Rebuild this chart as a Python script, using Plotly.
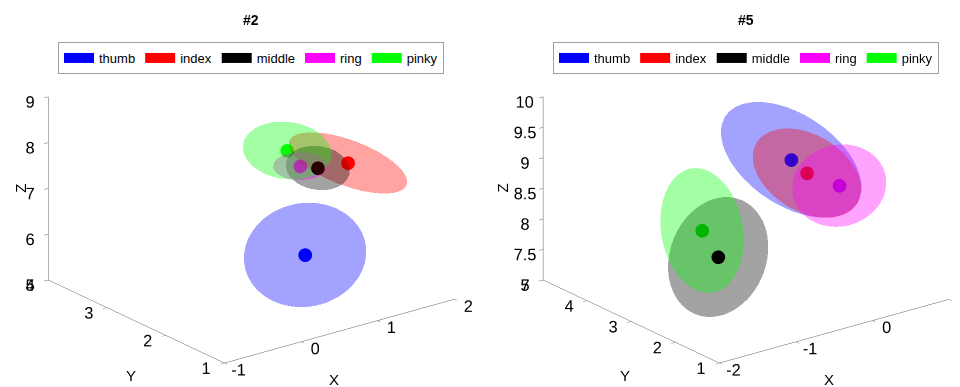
import numpy as np
import plotly.graph_objects as go

fingers = ["thumb", "index", "middle", "ring", "pinky"]
colors = ["#0000ff", "#ff0000", "#000000", "#ff00ff", "#00ff00"]

# Subject #2: ellipsoid centres (means) and semi-axes
s2_x = [0.59, 1.38, 1.14, 1.14, 1.20]
s2_y = [1.70, 2.00, 2.20, 2.50, 2.80]
s2_z = [6.20, 7.66, 7.54, 7.40, 7.53]
s2_rx = [0.67, 0.35, 0.30, 0.28, 0.42]
s2_ry = [0.57, 0.90, 0.38, 0.28, 0.52]
s2_rz = [1.04, 0.35, 0.40, 0.215, 0.51]

# Subject #5
s5_x = [0.09, 0.18, -1.21, 0.43, -0.96]
s5_y = [3.00, 2.80, 2.40, 2.50, 3.20]
s5_z = [8.92, 8.74, 7.985, 8.55, 8.06]
s5_rx = [0.30, 0.34, 0.62, 0.52, 0.31]
s5_ry = [1.51, 1.08, 0.37, 0.57, 0.78]
s5_rz = [0.79, 0.62, 0.95, 0.62, 0.98]

# axis limits, tick values and tick labels
s2_xlim, s2_ylim, s2_zlim = [-1, 2], [1, 4], [5, 9]
s5_xlim, s5_ylim, s5_zlim = [-2, 1], [1, 5], [7, 10]
s2_xticks, s2_xlabels = [-1, 0, 1, 2], ["-1", "0", "1", "2"]
s2_yticks, s2_ylabels = [1, 2, 3, 4], ["1", "2", "3", "4"]
s2_zticks, s2_zlabels = [5, 6, 7, 8, 9], ["5", "6", "7", "8", "9"]
s5_xticks, s5_xlabels = [-2, -1, 0, 1], ["-2", "-1", "0", ""]
s5_yticks, s5_ylabels = [1, 2, 3, 4, 5], ["1", "2", "3", "4", "5"]
s5_zticks = [7, 7.5, 8, 8.5, 9, 9.5, 10]
s5_zlabels = ["7", "7.5", "8", "8.5", "9", "9.5", "10"]

FONT = "Liberation Sans, Arial, sans-serif"
ALPHA = 0.2


def ellipsoid(cx, cy, cz, rx, ry, rz, n=48):
    u = np.linspace(0, 2 * np.pi, n)
    v = np.linspace(0, np.pi, n // 2)
    X = cx + rx * np.outer(np.cos(u), np.sin(v))
    Y = cy + ry * np.outer(np.sin(u), np.sin(v))
    Z = cz + rz * np.outer(np.ones_like(u), np.cos(v))
    return X, Y, Z


fig = go.Figure()

for scene, legend, xs, ys, zs, rxs, rys, rzs in [
    ("scene", "legend", s2_x, s2_y, s2_z, s2_rx, s2_ry, s2_rz),
    ("scene2", "legend2", s5_x, s5_y, s5_z, s5_rx, s5_ry, s5_rz),
]:
    for i, f in enumerate(fingers):
        X, Y, Z = ellipsoid(xs[i], ys[i], zs[i], rxs[i], rys[i], rzs[i])
        fig.add_trace(go.Surface(
            x=X, y=Y, z=Z, scene=scene,
            surfacecolor=np.zeros_like(X),
            colorscale=[[0, colors[i]], [1, colors[i]]],
            showscale=False, opacity=ALPHA, showlegend=False,
            lighting=dict(ambient=1, diffuse=0, specular=0, roughness=1, fresnel=0),
            hoverinfo="skip",
        ))
    fig.add_trace(go.Scatter3d(
        x=xs, y=ys, z=zs, scene=scene, mode="markers",
        marker=dict(size=8, color=colors, line=dict(width=0)),
        showlegend=False, hoverinfo="skip",
    ))
    for i, f in enumerate(fingers):
        fig.add_trace(go.Scatter(
            x=[None], y=[None], mode="lines", name=f, legend=legend,
            line=dict(color=colors[i], width=13),
        ))

# view: azimuth / elevation (orthographic)
AZ, EL = 232.5, 21.2
DOM_Y = [0.0, 0.99]
K = 1.138
PX_PER_UNIT = 200.0 * K
ASPECT = dict(x=1.72 / K, y=1.72 / K, z=1.168 / K)
a, e = np.radians(AZ), np.radians(EL)
view_dir = np.array([np.cos(e) * np.cos(a), np.cos(e) * np.sin(a), np.sin(e)])
screen_right = np.array([-np.sin(a), np.cos(a), 0.0])
screen_up = np.array([-np.sin(e) * np.cos(a), -np.sin(e) * np.sin(a), np.cos(e)])


def camera(shift_right_px, shift_down_px):
    c = (-shift_right_px * screen_right + shift_down_px * screen_up) / PX_PER_UNIT
    ey = c + 1.8 * view_dir
    return dict(
        eye=dict(x=ey[0], y=ey[1], z=ey[2]),
        center=dict(x=c[0], y=c[1], z=c[2]),
        up=dict(x=0, y=0, z=1),
        projection=dict(type="orthographic"),
    )


def axis(rng, ticks, labels):
    return dict(
        range=rng, tickmode="array", tickvals=ticks, ticktext=labels,
        title=dict(text=""),
        showbackground=False, showgrid=False, zeroline=False,
        showline=True, linecolor="#606060", linewidth=1,
        ticks="outside", ticklen=5, tickcolor="#606060", tickangle=0,
        tickfont=dict(family=FONT, size=14, color="#000000"),
        showspikes=False,
    )


def axis_labels(xl, yl, zl, zshift):
    xm = (xl[0] + xl[1]) / 2
    ym = (yl[0] + yl[1]) / 2
    zm = (zl[0] + zl[1]) / 2
    f = dict(family=FONT, size=15, color="#000000")
    return [
        dict(x=xm, y=yl[0], z=zl[0], text="X", showarrow=False, xshift=-5, yshift=-48, font=f),
        dict(x=xl[0], y=ym, z=zl[0], text="Y", showarrow=False, xshift=-6, yshift=-54, font=f),
        dict(x=xl[0], y=yl[1], z=zm, text="Z", showarrow=False, xshift=zshift, yshift=0,
             textangle=-90, font=f),
    ]


leg = dict(
    orientation="h", xanchor="center", y=1 - 42 / 387, yanchor="top",
    bordercolor="#a0a0a0", borderwidth=1, bgcolor="white",
    font=dict(family=FONT, size=13), itemwidth=30, tracegroupgap=0,
)

fig.update_layout(
    width=960, height=387,
    margin=dict(l=0, r=0, t=0, b=0, autoexpand=False),
    paper_bgcolor="white", plot_bgcolor="white",
    font=dict(family=FONT, size=14, color="#000000"),
    xaxis=dict(visible=False), yaxis=dict(visible=False),
    scene=dict(
        domain=dict(x=[0.02, 0.5], y=DOM_Y),
        xaxis=axis(s2_xlim, s2_xticks, s2_xlabels),
        yaxis=axis(s2_ylim, s2_yticks, s2_ylabels),
        zaxis=axis(s2_zlim, s2_zticks, s2_zlabels),
        aspectmode="manual", aspectratio=ASPECT,
        camera=camera(2, 3), annotations=axis_labels(s2_xlim, s2_ylim, s2_zlim, -28),
    ),
    scene2=dict(
        domain=dict(x=[0.5, 1.0], y=DOM_Y),
        xaxis=axis(s5_xlim, s5_xticks, s5_xlabels),
        yaxis=axis(s5_ylim, s5_yticks, s5_ylabels),
        zaxis=axis(s5_zlim, s5_zticks, s5_zlabels),
        aspectmode="manual", aspectratio=ASPECT,
        camera=camera(31, 3), annotations=axis_labels(s5_xlim, s5_ylim, s5_zlim, -41),
    ),
    legend=dict(leg, x=251 / 960),
    legend2=dict(leg, x=746 / 960),
    annotations=[
        dict(text="<b>#2</b>", x=251 / 960, y=1 - 20 / 387, xref="paper", yref="paper",
             xanchor="center", yanchor="middle", showarrow=False,
             font=dict(family=FONT, size=14)),
        dict(text="<b>#5</b>", x=746 / 960, y=1 - 20 / 387, xref="paper", yref="paper",
             xanchor="center", yanchor="middle", showarrow=False,
             font=dict(family=FONT, size=14)),
    ],
)

fig.write_html("out.html", config={"displayModeBar": False},
               post_script="document.body.style.margin='0px';")
